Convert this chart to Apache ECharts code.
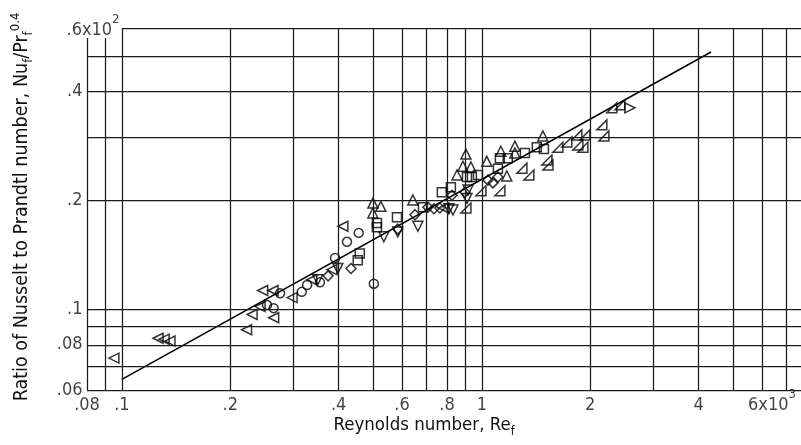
<!DOCTYPE html>
<html><head><meta charset="utf-8">
<script src="https://cdn.jsdelivr.net/npm/echarts@6/dist/echarts.min.js"></script>
<style>html,body{margin:0;padding:0;background:#fff}#c{width:801px;height:445px}</style>
</head><body><div id="c"></div>
<script>
const FONT = "'DejaVu Sans Condensed','Liberation Sans Narrow','Roboto Condensed','DejaVu Sans',sans-serif";

// ---- axis ranges & ticks ----
const xMin = 0.08, xMax = 7.7, yMin = 0.06, yMax = 0.6;
const xTicks = [0.08, 0.1, 0.2, 0.4, 0.6, 0.8, 1, 2, 4, 6];
const xTickLabels = ['.08', '.1', '.2', '.4', '.6', '.8', '1', '2', '4', '6x10^3'];
const yTicks = [0.06, 0.08, 0.1, 0.2, 0.4];
const yTickLabels = ['.06', '.08', '.1', '.2', '.4'];
const yTopTick = [0.6];
const yTopLabel = ['.6x10^2'];
const xGrid = [0.08, 0.09, 0.1, 0.2, 0.3, 0.4, 0.5, 0.6, 0.7, 0.8, 0.9, 1, 2, 3, 4, 5, 6, 7];
const yGrid = [0.06, 0.07, 0.08, 0.09, 0.1, 0.2, 0.3, 0.4, 0.5, 0.6];
const gridCutTop = 0.563;   // short left gridlines stop below the top label

// ---- correlation line ----
const fitRe = [0.1, 4.33];
const fitNu = [0.0642, 0.515];

// ---- data (Re_f x10^3, Nu_f/Pr_f^0.4 x10^2) ----
const leftTriRe = [0.095, 0.126, 0.131, 0.136, 0.222, 0.230, 0.242, 0.246, 0.263, 0.264, 0.297, 0.337, 0.383, 0.411, 0.784];
const leftTriNu = [0.0735, 0.0834, 0.0829, 0.0819, 0.088, 0.097, 0.102, 0.113, 0.113, 0.095, 0.108, 0.121, 0.129, 0.170, 0.191];

const circleRe = [0.253, 0.264, 0.275, 0.316, 0.327, 0.355, 0.391, 0.422, 0.455, 0.501];
const circleNu = [0.103, 0.101, 0.111, 0.112, 0.117, 0.119, 0.139, 0.154, 0.163, 0.118];

const squareRe = [0.452, 0.458, 0.511, 0.511, 0.581, 0.686, 0.774, 0.820, 0.909, 0.938, 0.975, 1.108, 1.122, 1.180, 1.317, 1.421, 1.487];
const squareNu = [0.137, 0.143, 0.1735, 0.169, 0.180, 0.192, 0.211, 0.218, 0.2325, 0.2325, 0.2355, 0.245, 0.262, 0.262, 0.271, 0.281, 0.278];

const upTriRe = [0.498, 0.498, 0.524, 0.643, 0.853, 0.886, 0.903, 0.932, 1.032, 1.129, 1.173, 1.235, 1.235, 1.477];
const upTriNu = [0.197, 0.185, 0.193, 0.201, 0.2355, 0.249, 0.269, 0.248, 0.257, 0.274, 0.234, 0.283, 0.271, 0.302];

const downTriRe = [0.350, 0.398, 0.534, 0.584, 0.664, 0.810, 0.831, 0.909, 0.915];
const downTriNu = [0.121, 0.130, 0.159, 0.164, 0.170, 0.190, 0.1885, 0.203, 0.214];

const diamondRe = [0.374, 0.433, 0.584, 0.652, 0.708, 0.736, 0.764, 0.826, 0.897, 1.039, 1.073, 1.108];
const diamondNu = [0.124, 0.130, 0.167, 0.183, 0.192, 0.190, 0.191, 0.207, 0.211, 0.228, 0.224, 0.2325];

const rightAngleRe = [0.903, 0.994, 1.122, 1.292, 1.351, 1.516, 1.526, 1.626, 1.722, 1.836, 1.848, 1.933, 1.908, 2.154, 2.182, 2.296, 2.418];
const rightAngleNu = [0.191, 0.213, 0.213, 0.246, 0.2355, 0.259, 0.251, 0.281, 0.2905, 0.304, 0.285, 0.304, 0.281, 0.324, 0.302, 0.361, 0.368];

const rightTriRe = [2.577];
const rightTriNu = [0.361];

// ---- helpers ----
const zip = (xs, ys) => xs.map((x, i) => [x, ys[i]]);
const INK = '#111';
function richText(s) {
  const m = s.split('^');
  if (m.length === 2) return '{a|' + m[0] + '}{s|' + m[1] + '}';
  return '{a|' + s + '}';
}
const tickRich = {
  a: { fontSize: 18, fontFamily: FONT, color: INK, lineHeight: 34 },
  s: { fontSize: 13, fontFamily: FONT, color: INK, lineHeight: 13, verticalAlign: 'top' },
  pad: { width: 20 }
};
const markerStyle = { color: 'rgba(255,255,255,0)', borderColor: '#000', borderWidth: 1.5 };
function markers(xs, ys, symbol, size, rotate) {
  return {
    type: 'scatter', data: zip(xs, ys), symbol: symbol, symbolSize: size,
    symbolRotate: rotate || 0, symbolKeepAspect: true,
    itemStyle: markerStyle, z: 4, silent: true
  };
}

const vLines = xGrid.map(v => v < 0.1 ? [{ coord: [v, yMin] }, { coord: [v, gridCutTop] }] : { xAxis: v });
const hLines = yGrid.map(v => v === yMax ? [{ coord: [0.1, v] }, { coord: [xMax, v] }] : { yAxis: v });

const option = {
  backgroundColor: '#fff',
  animation: false,
  grid: { left: 87, right: 0, top: 28, bottom: 55, containLabel: false },
  xAxis: {
    type: 'log', logBase: 10, min: xMin, max: xMax,
    axisLine: { show: false }, axisTick: { show: false }, axisLabel: { show: false },
    splitLine: { show: false },
    name: '{n|Reynolds number, Re}{b|f}', nameLocation: 'middle', nameGap: 22,
    nameTextStyle: {
      padding: [0, 40, 0, 0],
      rich: {
        n: { fontSize: 18.5, fontFamily: FONT, color: INK, lineHeight: 26 },
        b: { fontSize: 12, fontFamily: FONT, color: INK, lineHeight: 12, verticalAlign: 'bottom' }
      }
    }
  },
  yAxis: {
    type: 'log', logBase: 10, min: yMin, max: yMax,
    axisLine: { show: false }, axisTick: { show: false }, axisLabel: { show: false },
    splitLine: { show: false },
    name: '{n|Ratio of Nusselt to Prandtl number, Nu}{b|f}{n|/Pr}{b|f}{t|0.4}',
    nameLocation: 'middle', nameRotate: 90, nameGap: 52,
    nameTextStyle: {
      padding: [0, 0, 0, 4],
      rich: {
        n: { fontSize: 19.5, fontFamily: FONT, color: INK, lineHeight: 26 },
        b: { fontSize: 13, fontFamily: FONT, color: INK, lineHeight: 12, verticalAlign: 'bottom' },
        t: { fontSize: 13, fontFamily: FONT, color: INK, lineHeight: 12, verticalAlign: 'top' }
      }
    }
  },
  series: [
    {
      type: 'line', data: zip(fitRe, fitNu), symbol: 'none', z: 2, silent: true,
      lineStyle: { color: '#000', width: 1.6 },
      markLine: {
        silent: true, symbol: ['none', 'none'], label: { show: false },
        lineStyle: { color: '#1c1c1c', width: 1.25, type: 'solid' },
        emphasis: { disabled: true },
        data: vLines.concat(hLines)
      }
    },
    markers(leftTriRe, leftTriNu, 'triangle', 10, 90),
    markers(rightTriRe, rightTriNu, 'triangle', 10, -90),
    markers(upTriRe, upTriNu, 'triangle', 10, 0),
    markers(downTriRe, downTriNu, 'triangle', 10, 180),
    markers(circleRe, circleNu, 'circle', 9, 0),
    markers(squareRe, squareNu, 'rect', 9, 0),
    markers(diamondRe, diamondNu, 'diamond', 10, 0),
    markers(rightAngleRe, rightAngleNu, 'path://M0,10L10,10L10,0Z', 10, 0),
    // x tick labels
    {
      type: 'scatter', data: xTicks.map(v => [v, yMin]), symbolSize: 1, clip: false, silent: true,
      itemStyle: { color: 'rgba(0,0,0,0)' },
      label: {
        show: true, position: 'bottom', distance: -2,
        formatter: p => {
          const t = xTickLabels[p.dataIndex];
          return t.indexOf('^') >= 0 ? '{pad|}' + richText(t) : richText(t);
        },
        rich: tickRich
      }
    },
    // y tick labels
    {
      type: 'scatter', data: yTicks.map(v => [xMin, v]), symbolSize: 1, clip: false, silent: true,
      itemStyle: { color: 'rgba(0,0,0,0)' },
      label: {
        show: true, position: 'left', distance: 4,
        formatter: p => yTickLabels[p.dataIndex],
        fontSize: 18, fontFamily: FONT, color: INK, lineHeight: 22
      }
    },
    {
      type: 'scatter', data: yTopTick.map(v => [xMin, v]), symbolSize: 1, clip: false, silent: true,
      itemStyle: { color: 'rgba(0,0,0,0)' },
      label: {
        show: true, position: [-20, -14], align: 'left', verticalAlign: 'top',
        formatter: p => richText(yTopLabel[p.dataIndex]),
        rich: tickRich
      }
    }
  ]
};
echarts.init(document.getElementById('c'), null, { renderer: 'canvas' }).setOption(option);
</script></body></html>
